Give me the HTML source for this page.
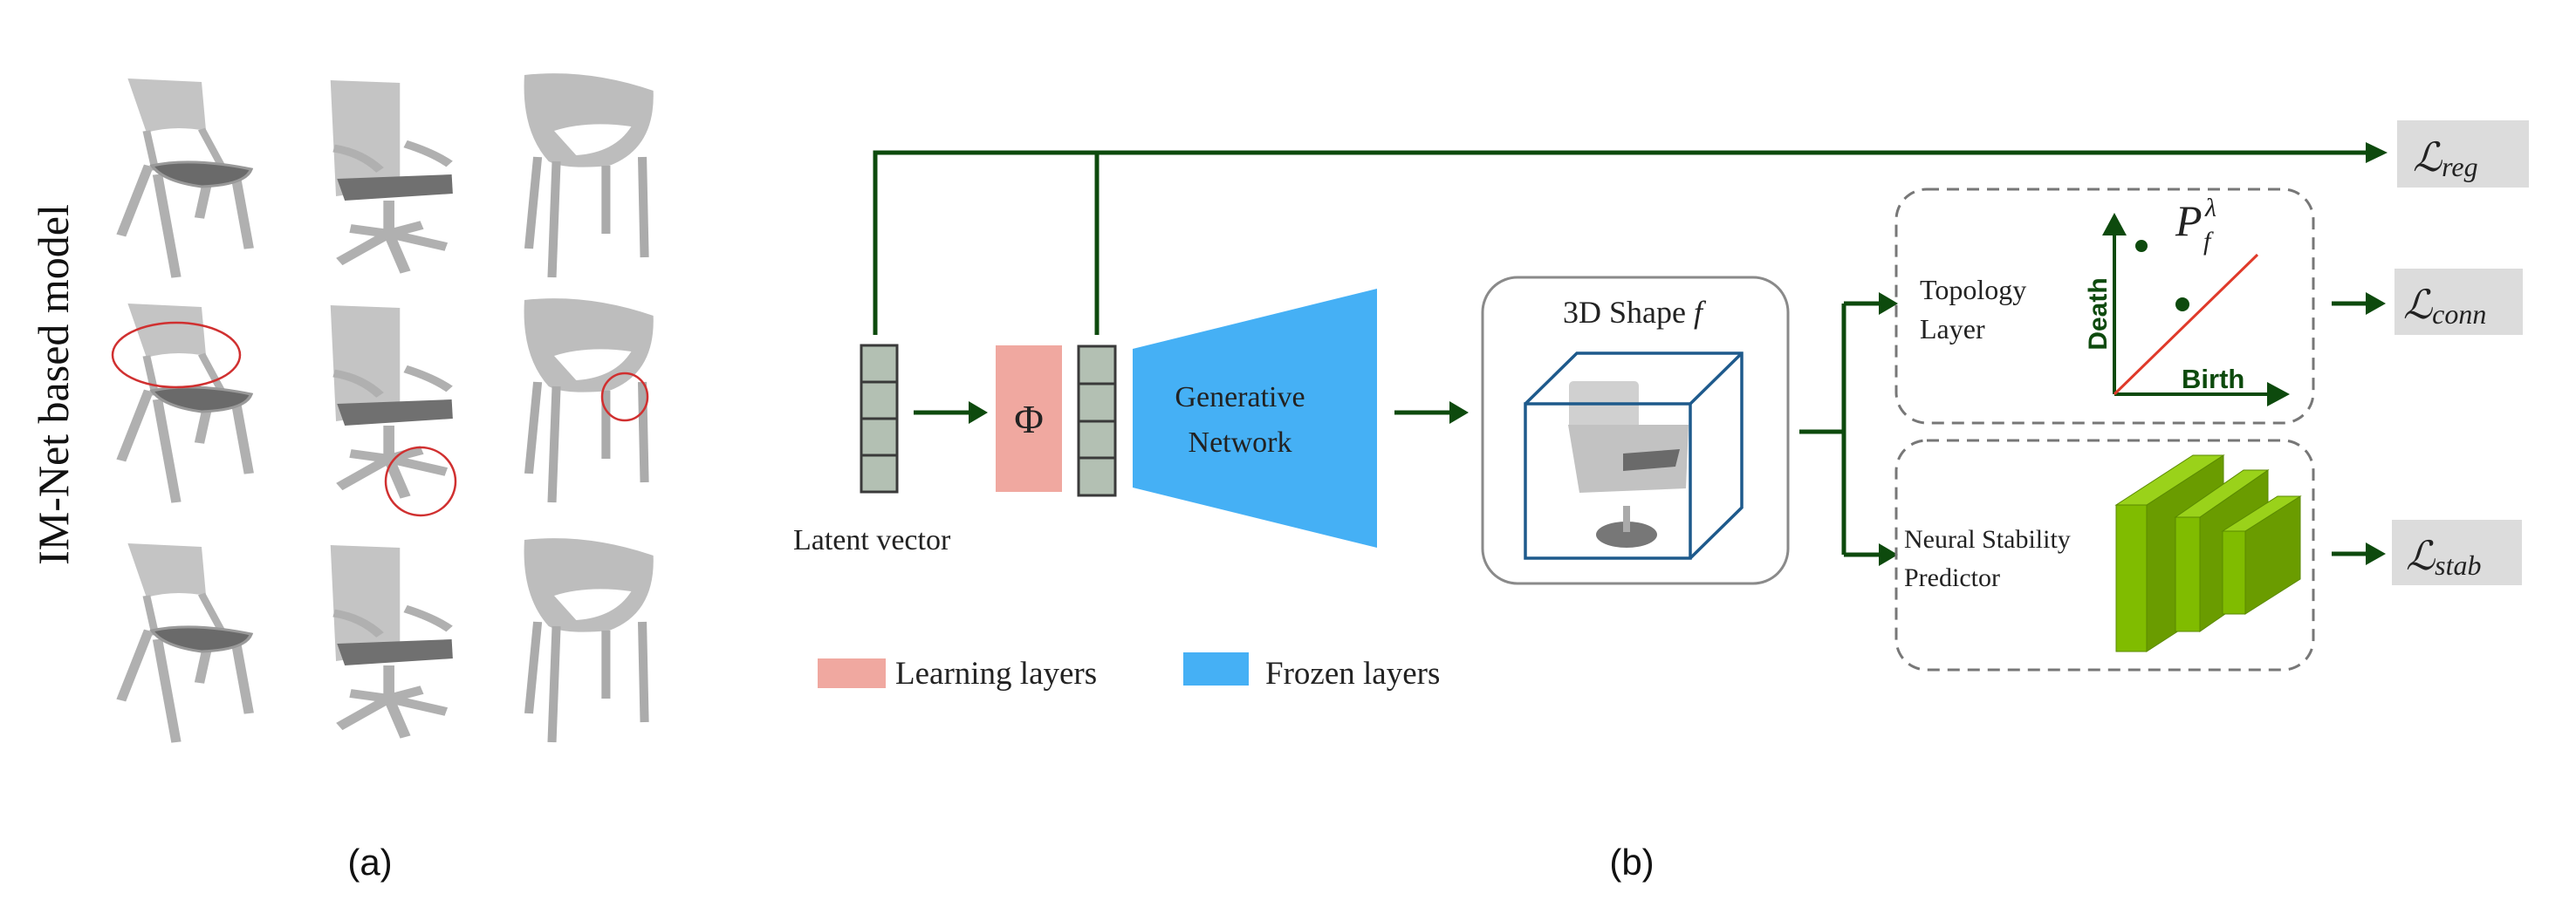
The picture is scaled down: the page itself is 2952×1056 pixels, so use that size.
<!DOCTYPE html>
<html><head><meta charset="utf-8"><style>
html,body{margin:0;padding:0;background:#fff}
svg{display:block}
</style></head><body>
<svg width="2952" height="1056" viewBox="0 0 2952 1056" xmlns="http://www.w3.org/2000/svg">
<defs>
<g id="chairA" fill="#c4c4c4" stroke="#b0b0b0">
 <path d="M143,90 L210,94 L214,150 Q185,143 160,152 Z" stroke="none"/>
 <path d="M160,150 L168,195 M210,148 L228,190" stroke-width="7" fill="none"/>
 <path d="M162,190 L137,270 M170,200 L187,318 M215,210 L208,250 M240,195 L253,285" stroke-width="9" fill="none"/>
 <path d="M165,190 Q200,180 255,194 Q250,212 210,214 Q175,208 165,190 Z" fill="#6a6a6a" stroke="#999" stroke-width="3"/>
</g>
<g id="chairB" fill="#c4c4c4" stroke="#b0b0b0">
 <path d="M327,92 L390,95 L390,215 L332,225 Z" stroke="none"/>
 <path d="M330,170 Q355,175 372,195 M395,165 Q420,175 435,188" stroke-width="9" fill="none"/>
 <path d="M333,205 L437,200 L438,222 L340,230 Z" fill="#707070" stroke="none"/>
 <path d="M380,230 L380,268 M380,268 L335,300 M380,268 L432,283 M380,268 L395,312 M380,268 L345,262 M380,268 L410,258" stroke-width="10" fill="none"/>
</g>
<g id="chairC" fill="#bdbdbd" stroke="#ababab">
 <path d="M503,86 Q560,78 620,104 Q622,170 580,190 Q540,195 525,185 Q500,150 503,86 Z M530,150 Q560,138 600,145 Q585,175 550,178 Z" fill-rule="evenodd" stroke="none"/>
 <path d="M515,180 L507,285 M532,185 L528,318 M577,190 L577,268 M610,180 L612,295" stroke-width="8" fill="none"/>
</g>
</defs>

<!-- chairs grid -->
<g transform="matrix(1.2626,0,0,1,-34.14,0)">
<use href="#chairA"/><use href="#chairB"/><use href="#chairC"/>
<g transform="translate(0,258)"><use href="#chairA"/><use href="#chairB"/><use href="#chairC"/></g>
<g transform="translate(0,533)"><use href="#chairA"/><use href="#chairB"/><use href="#chairC"/></g>
</g>
<g fill="none" stroke="#d03030" stroke-width="2.5">
 <ellipse cx="202" cy="407" rx="73" ry="37"/>
 <ellipse cx="482" cy="552" rx="40" ry="39"/>
 <ellipse cx="716" cy="455" rx="26" ry="27"/>
</g>
<text transform="translate(78,441) rotate(-90)" text-anchor="middle" font-family="Liberation Serif, serif" font-size="50" fill="#111">IM-Net based model</text>
<text x="424" y="1003" text-anchor="middle" font-family="Liberation Sans, sans-serif" font-size="42" fill="#111">(a)</text>
<text x="1870" y="1003" text-anchor="middle" font-family="Liberation Sans, sans-serif" font-size="42" fill="#111">(b)</text>

<!-- green connectors -->
<g stroke="#0d4a0d" stroke-width="5" fill="none">
 <path d="M1003,384 L1003,175 L2715,175"/>
 <path d="M1257,384 L1257,175"/>
 <path d="M1047,473 L1112,473"/>
 <path d="M1598,473 L1663,473"/>
 <path d="M2062,495 L2113,495 M2113,348 L2113,636 M2113,348 L2155,348 M2113,636 L2155,636"/>
 <path d="M2672,348 L2715,348 M2672,635 L2715,635"/>
</g>
<g fill="#0d4a0d">
 <polygon points="2711,163 2736,175 2711,187"/>
 <polygon points="1110,460 1132,473 1110,486"/>
 <polygon points="1661,460 1683,473 1661,486"/>
 <polygon points="2153,335 2175,348 2153,361"/>
 <polygon points="2153,623 2175,636 2153,649"/>
 <polygon points="2711,335 2734,348 2711,361"/>
 <polygon points="2711,622 2734,635 2711,648"/>
</g>

<!-- latent vectors -->
<g fill="#b3c0b3" stroke="#3a3a3a" stroke-width="3">
 <rect x="987" y="396" width="41" height="42"/><rect x="987" y="438" width="41" height="42"/><rect x="987" y="480" width="41" height="42"/><rect x="987" y="522" width="41" height="42"/>
 <rect x="1236" y="397" width="42" height="43"/><rect x="1236" y="440" width="42" height="43"/><rect x="1236" y="483" width="42" height="42"/><rect x="1236" y="525" width="42" height="43"/>
</g>
<rect x="1141" y="396" width="76" height="168" fill="#f0a8a0"/>
<text x="1179" y="496" text-anchor="middle" font-family="Liberation Serif, serif" font-size="46" fill="#222">Φ</text>
<polygon points="1298,400 1578,331 1578,628 1298,559" fill="#45b0f5"/>
<text x="1421" y="466" text-anchor="middle" font-family="Liberation Serif, serif" font-size="34" fill="#222">Generative</text>
<text x="1421" y="518" text-anchor="middle" font-family="Liberation Serif, serif" font-size="34" fill="#222">Network</text>
<text x="909" y="630" font-family="Liberation Serif, serif" font-size="34" fill="#222">Latent vector</text>

<!-- legend -->
<rect x="937" y="755" width="78" height="34" fill="#f0a8a0"/>
<text x="1026" y="784" font-family="Liberation Serif, serif" font-size="37" fill="#222">Learning layers</text>
<rect x="1356" y="748" width="75" height="38" fill="#45b0f5"/>
<text x="1450" y="784" font-family="Liberation Serif, serif" font-size="37" fill="#222">Frozen layers</text>

<!-- 3D shape box -->
<rect x="1699" y="318" width="350" height="351" rx="40" fill="#fff" stroke="#8a8a8a" stroke-width="3"/>
<text x="1871" y="370" text-anchor="middle" font-family="Liberation Serif, serif" font-size="36" fill="#222">3D Shape <tspan font-style="italic">f</tspan></text>
<g fill="#c2c2c2">
 <rect x="1798" y="437" width="80" height="58" rx="5" fill="#d0d0d0"/>
 <path d="M1797,487 L1935,487 L1932,560 L1810,565 Z"/>
 <path d="M1860,520 L1925,515 L1920,535 L1860,540 Z" fill="#6a6a6a"/>
 <ellipse cx="1864" cy="613" rx="35" ry="15" fill="#777"/>
 <rect x="1860" y="580" width="8" height="30" fill="#aaa"/>
</g>
<g fill="none" stroke="#1e5a8c" stroke-width="3.5">
 <rect x="1748" y="463" width="189" height="177"/>
 <path d="M1748,463 L1807,405 L1996,405 L1996,582 L1937,640 M1937,463 L1996,405"/>
</g>

<!-- dashed boxes -->
<g fill="none" stroke="#777" stroke-width="3" stroke-dasharray="14,9">
 <rect x="2173" y="217" width="478" height="268" rx="35"/>
 <rect x="2173" y="505" width="478" height="263" rx="35"/>
</g>
<text x="2200" y="343" font-family="Liberation Serif, serif" font-size="32" fill="#222">Topology</text>
<text x="2200" y="388" font-family="Liberation Serif, serif" font-size="32" fill="#222">Layer</text>
<g stroke="#0d4a0d" stroke-width="4">
 <line x1="2423" y1="452" x2="2423" y2="265"/>
 <line x1="2423" y1="452" x2="2603" y2="452"/>
</g>
<polygon points="2409,270 2423,244 2437,270" fill="#0d4a0d"/>
<polygon points="2598,438 2624,452 2598,466" fill="#0d4a0d"/>
<line x1="2423" y1="452" x2="2587" y2="292" stroke="#e03a2a" stroke-width="3"/>
<circle cx="2454" cy="282" r="7" fill="#0d4a0d"/><circle cx="2501" cy="349" r="8" fill="#0d4a0d"/>
<text transform="translate(2414,360) rotate(-90)" text-anchor="middle" font-family="Liberation Sans, sans-serif" font-weight="bold" font-size="30" fill="#0d4a0d">Death</text>
<text x="2500" y="445" font-family="Liberation Sans, sans-serif" font-weight="bold" font-size="31" fill="#0d4a0d">Birth</text>
<text x="2493" y="270" font-family="Liberation Serif, serif" font-style="italic" font-size="50" fill="#222">P</text>
<text x="2527" y="248" font-family="Liberation Serif, serif" font-style="italic" font-size="30" fill="#222">λ</text>
<text x="2525" y="286" font-family="Liberation Serif, serif" font-style="italic" font-size="30" fill="#222">f</text>

<text x="2182" y="628" font-family="Liberation Serif, serif" font-size="30" fill="#222">Neural Stability</text>
<text x="2182" y="672" font-family="Liberation Serif, serif" font-size="30" fill="#222">Predictor</text>
<!-- green slabs -->
<g stroke="#5a8a00" stroke-width="1">
 <polygon points="2460,579 2548,522 2548,690 2460,747" fill="#6a9c00"/>
 <polygon points="2425,579 2460,579 2548,522 2513,522" fill="#9ad21a"/>
 <rect x="2425" y="579" width="35" height="168" fill="#80bc00"/>
 <polygon points="2521,593 2599,539 2599,670 2521,724" fill="#6a9c00"/>
 <polygon points="2493,593 2521,593 2599,539 2571,539" fill="#9ad21a"/>
 <rect x="2493" y="593" width="28" height="131" fill="#80bc00"/>
 <polygon points="2573,609 2636,569 2636,664 2573,704" fill="#6a9c00"/>
 <polygon points="2547,609 2573,609 2636,569 2610,569" fill="#9ad21a"/>
 <rect x="2547" y="609" width="26" height="95" fill="#80bc00"/>
</g>

<!-- loss boxes -->
<rect x="2747" y="138" width="151" height="77" fill="#dcdcdc"/>
<text x="2765" y="196" font-family="Liberation Serif, serif" font-style="italic" font-size="46" fill="#222">ℒ<tspan font-size="32" dy="6">reg</tspan></text>
<rect x="2744" y="308" width="147" height="76" fill="#dcdcdc"/>
<text x="2754" y="365" font-family="Liberation Serif, serif" font-style="italic" font-size="46" fill="#222">ℒ<tspan font-size="32" dy="6">conn</tspan></text>
<rect x="2741" y="596" width="149" height="75" fill="#dcdcdc"/>
<text x="2757" y="653" font-family="Liberation Serif, serif" font-style="italic" font-size="46" fill="#222">ℒ<tspan font-size="32" dy="6">stab</tspan></text>
</svg>
</body></html>
